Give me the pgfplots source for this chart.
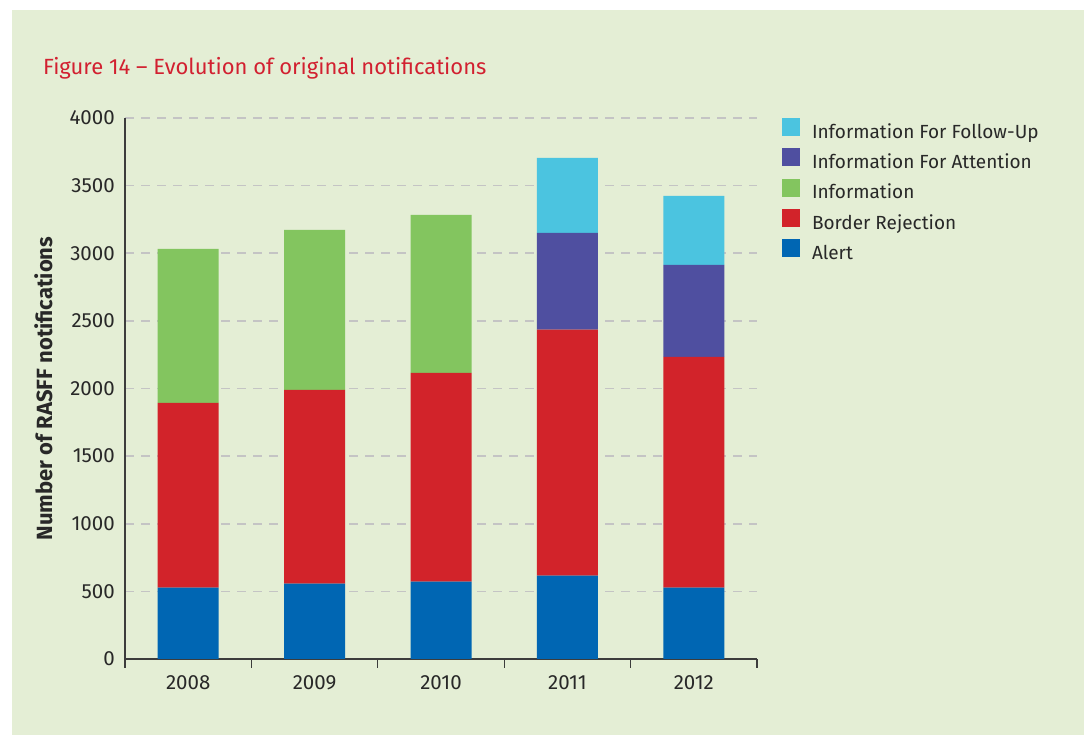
\documentclass[border=0pt]{standalone}
\usepackage{fontspec}
\setmainfont{Fira Sans}
\usepackage{pgfplots}
\usepackage{pgfplotstable}
\pgfplotsset{compat=1.18}
\definecolor{panel}{RGB}{228,238,213}
\definecolor{alertc}{RGB}{0,102,179}
\definecolor{borderc}{RGB}{210,35,42}
\definecolor{infoc}{RGB}{131,197,95}
\definecolor{attc}{RGB}{79,79,160}
\definecolor{fupc}{RGB}{75,196,224}
\definecolor{titlered}{RGB}{210,32,48}
\definecolor{txt}{RGB}{40,40,40}
\definecolor{gridc}{RGB}{196,196,196}
\definecolor{axisc}{RGB}{60,60,60}
\pgfplotstableread{
x alert border info attention followup
0 527 1366 1140 0 0
1 557 1433 1183 0 0
2 572 1543 1169 0 0
3 616 1820 0 715 555
4 527 1707 0 680 511
}\datatable
\begin{document}
\begin{tikzpicture}[x=1pt,y=1pt]
\useasboundingbox (0,0) rectangle (1084,735);
\fill[white] (0,0) rectangle (1084,735);
\fill[panel] (12,0) rectangle (1084,725);
\node[anchor=base west, text=titlered, font=\fontsize{22}{26}\selectfont, inner sep=0pt] at (43,660) {Figure 14 – Evolution of original notifications};
\begin{axis}[
  at={(125pt,76pt)}, anchor=south west,
  scale only axis, width=632pt, height=541pt,
  ybar stacked, bar width=61pt,
  xmin=-0.5, xmax=4.5, ymin=0, ymax=4000,
  axis x line*=bottom, axis y line*=left,
  axis line style={axisc, line width=1.3pt, -},
  xtick={0,1,2,3,4},
  xticklabels={2008,2009,2010,2011,2012},
  minor xtick={-0.5,0.5,1.5,2.5,3.5,4.5},
  major tick length=0pt, minor tick length=9pt,
  tick align=outside,
  minor tick style={axisc, line width=1.3pt},
  ytick={0,500,...,4000},
  ymajorgrids,
  major grid style={gridc, line width=1.6pt, dash pattern=on 9pt off 7pt},
  /pgf/number format/assume math mode=true,
  /pgf/number format/1000 sep={},
  ticklabel style={font=\fontsize{20.5}{24}\selectfont, text=txt},
  yticklabel style={inner sep=0pt, xshift=-10pt},
  xticklabel style={inner sep=0pt, yshift=-16pt, anchor=north},
  ylabel={Number of RASFF notifications},
  every axis y label/.style={at={(axis description cs:-0.129,0.5)}, rotate=90, anchor=center,
    font=\bfseries\fontsize{22}{26}\selectfont, text=txt},
  reverse legend,
  legend cell align=left,
  legend image code/.code={\fill[#1,draw=none] (0pt,-4.5pt) rectangle (18pt,13.5pt);},
  legend style={at={(axis description cs:1,1)}, anchor=north west, xshift=25pt, yshift=0pt,
    draw=none, fill=none, inner sep=0pt, outer sep=0pt,
    font=\fontsize{19}{22}\selectfont, text=txt, row sep=8.7pt,
    nodes={inner sep=0pt, outer sep=0pt},
    /tikz/every odd column/.append style={column sep=12pt}},
]
\addplot[fill=alertc, draw=none] table[x=x,y=alert]{\datatable};
\addplot[fill=borderc, draw=none] table[x=x,y=border]{\datatable};
\addplot[fill=infoc, draw=none] table[x=x,y=info]{\datatable};
\addplot[fill=attc, draw=none] table[x=x,y=attention]{\datatable};
\addplot[fill=fupc, draw=none] table[x=x,y=followup]{\datatable};
\legend{Alert,Border Rejection,Information,Information For Attention,Information For Follow-Up}
\end{axis}
\end{tikzpicture}
\end{document}
